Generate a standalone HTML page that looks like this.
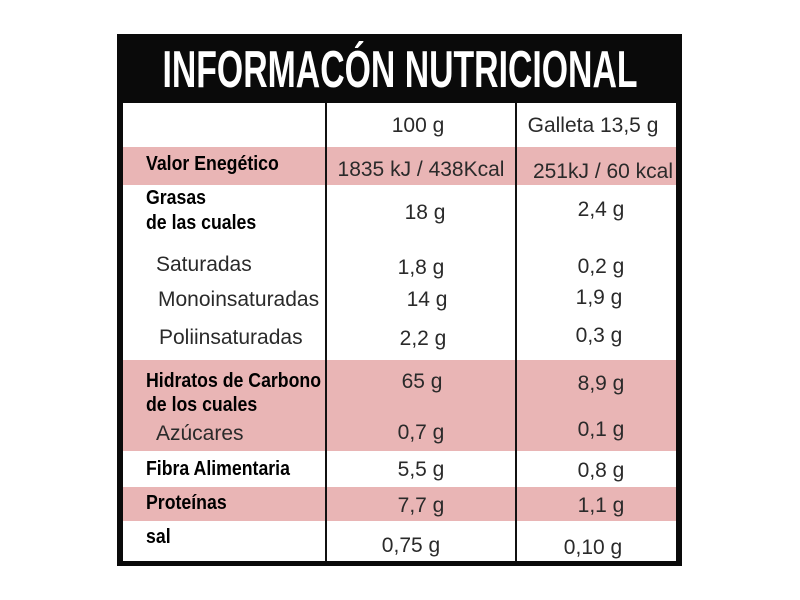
<!DOCTYPE html>
<html><head><meta charset="utf-8"><style>
body{margin:0;width:800px;height:600px;background:#fff;position:relative;overflow:hidden;font-family:"Liberation Sans",sans-serif}
.a{position:absolute}
.t{position:absolute;height:24px;line-height:24px;white-space:nowrap;font-size:21px;color:#2a2a2a}
.c{transform:translateX(-50%)}
.b{font-weight:bold;color:#000;font-size:20px;transform-origin:0 50%;transform:scaleX(0.885)}
.pink{position:absolute;left:123px;width:553px;background:#e9b5b5}
</style></head><body>
<div class="a" style="left:117px;top:34px;width:565px;height:532px;background:#0a0a0a"></div>
<div class="a" style="left:123px;top:103px;width:553px;height:458px;background:#fff"></div>
<div class="a" style="left:400px;top:42px;height:56px;line-height:56px;font-size:52px;font-weight:bold;color:#fff;white-space:nowrap;transform:translateX(-50%) scaleX(0.65)">INFORMACÓN NUTRICIONAL</div>
<div class="pink" style="top:147px;height:38px"></div>
<div class="pink" style="top:360px;height:91px"></div>
<div class="pink" style="top:487px;height:34px"></div>
<div class="a" style="left:325px;top:103px;width:2px;height:458px;background:#111"></div>
<div class="a" style="left:515px;top:103px;width:2px;height:458px;background:#111"></div>

<div class="t c" style="left:418px;top:114px">100 g</div>
<div class="t c" style="left:593px;top:114px">Galleta 13,5 g</div>

<div class="t b" style="left:146px;top:152px">Valor Enegético</div>
<div class="t c" style="left:421px;top:158px">1835 kJ / 438Kcal</div>
<div class="t c" style="left:603px;top:160px">251kJ / 60 kcal</div>

<div class="t b" style="left:146px;top:186px">Grasas</div>
<div class="t b" style="left:146px;top:211px">de las cuales</div>
<div class="t c" style="left:425px;top:201px">18 g</div>
<div class="t c" style="left:601px;top:198px">2,4 g</div>

<div class="t" style="left:156px;top:253px">Saturadas</div>
<div class="t c" style="left:421px;top:256px">1,8 g</div>
<div class="t c" style="left:601px;top:255px">0,2 g</div>

<div class="t" style="left:158px;top:288px">Monoinsaturadas</div>
<div class="t c" style="left:427px;top:288px">14 g</div>
<div class="t c" style="left:599px;top:286px">1,9 g</div>

<div class="t" style="left:159px;top:326px">Poliinsaturadas</div>
<div class="t c" style="left:423px;top:327px">2,2 g</div>
<div class="t c" style="left:599px;top:324px">0,3 g</div>

<div class="t b" style="left:146px;top:369px">Hidratos de Carbono</div>
<div class="t b" style="left:146px;top:393px">de los cuales</div>
<div class="t c" style="left:422px;top:370px">65 g</div>
<div class="t c" style="left:601px;top:372px">8,9 g</div>

<div class="t" style="left:156px;top:422px">Azúcares</div>
<div class="t c" style="left:421px;top:421px">0,7 g</div>
<div class="t c" style="left:601px;top:418px">0,1 g</div>

<div class="t b" style="left:146px;top:457px">Fibra Alimentaria</div>
<div class="t c" style="left:421px;top:458px">5,5 g</div>
<div class="t c" style="left:601px;top:459px">0,8 g</div>

<div class="t b" style="left:146px;top:491px">Proteínas</div>
<div class="t c" style="left:421px;top:494px">7,7 g</div>
<div class="t c" style="left:601px;top:494px">1,1 g</div>

<div class="t b" style="left:146px;top:525px">sal</div>
<div class="t c" style="left:411px;top:534px">0,75 g</div>
<div class="t c" style="left:593px;top:536px">0,10 g</div>
</body></html>
